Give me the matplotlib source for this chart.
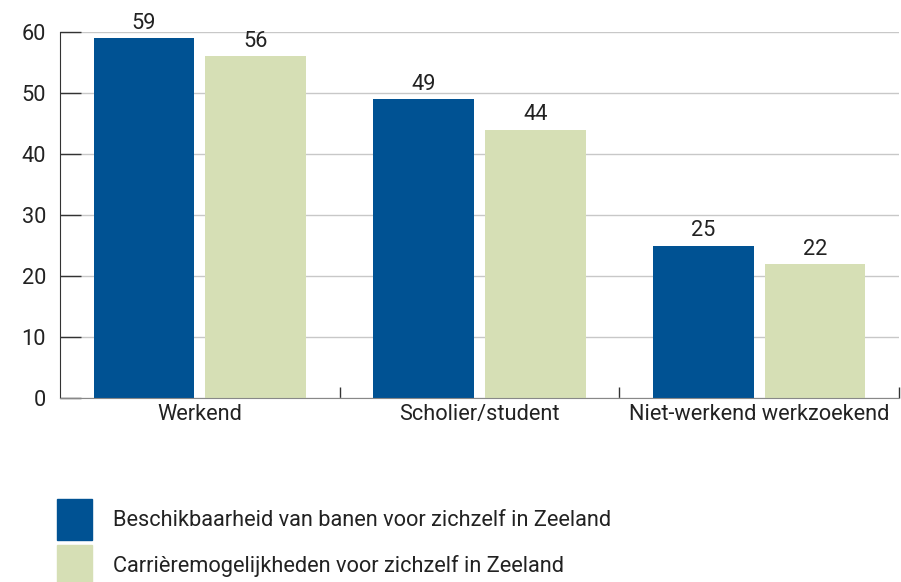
import matplotlib.pyplot as plt
import numpy as np
from matplotlib.patches import Rectangle

categorieen = ["Werkend", "Scholier/student", "Niet-werkend werkzoekend"]
banen = [59, 49, 25]
carriere = [56, 44, 22]
reeksen = ["Beschikbaarheid van banen voor zichzelf in Zeeland",
           "Carrièremogelijkheden voor zichzelf in Zeeland"]
kleuren = ["#005293", "#d6dfb5"]

plt.rcParams["font.family"] = ["Roboto", "DejaVu Sans"]
fs = 15.7
tekst = "#222222"

W, H = 901, 582
fig = plt.figure(figsize=(W / 100, H / 100), dpi=100)
ax = fig.add_axes([60 / W, 1 - 398 / H, 839 / W, 366 / H])

x = np.arange(len(categorieen))
breedte = 0.36
for i, (waarden, kleur) in enumerate(zip([banen, carriere], kleuren)):
    pos = x + (-0.2 if i == 0 else 0.2)
    staven = ax.bar(pos, waarden, width=breedte, color=kleur, zorder=3)
    for s, v in zip(staven, waarden):
        ax.annotate(str(v), (s.get_x() + s.get_width() / 2, v),
                    xytext=(0, 3), textcoords="offset points",
                    ha="center", va="bottom", fontsize=fs, color=tekst)

ax.set_xlim(-0.5, len(categorieen) - 0.5)
ax.set_ylim(0, 60)
ax.set_yticks(range(0, 61, 10))
ax.yaxis.grid(True, color="#c8c8c8", linewidth=1, zorder=0)
ax.tick_params(axis="y", direction="in", length=15, width=1, color="#333333",
               labelsize=fs, pad=10, labelcolor=tekst)

ax.set_xticks(x)
ax.set_xticklabels(categorieen)
ax.tick_params(axis="x", length=0, labelsize=fs, pad=4, labelcolor=tekst)
ax.set_xticks(np.arange(0.5, len(categorieen)), minor=True)
ax.tick_params(axis="x", which="minor", direction="in", length=8,
               width=1, color="#333333")

for kant in ["top", "right"]:
    ax.spines[kant].set_visible(False)
ax.spines["left"].set_color("#333333")
ax.spines["bottom"].set_color("#888888")
ax.spines["bottom"].set_zorder(4)

# legenda
for i, (naam, kleur) in enumerate(zip(reeksen, kleuren)):
    y0 = 499 + i * 46
    fig.add_artist(Rectangle((57 / W, 1 - (y0 + 41) / H), 35 / W, 41 / H,
                             transform=fig.transFigure, color=kleur))
    fig.text(113 / W, 1 - (y0 + 21) / H, naam, fontsize=fs,
             va="center", ha="left", color=tekst)

fig.savefig("out.png", dpi=100)
